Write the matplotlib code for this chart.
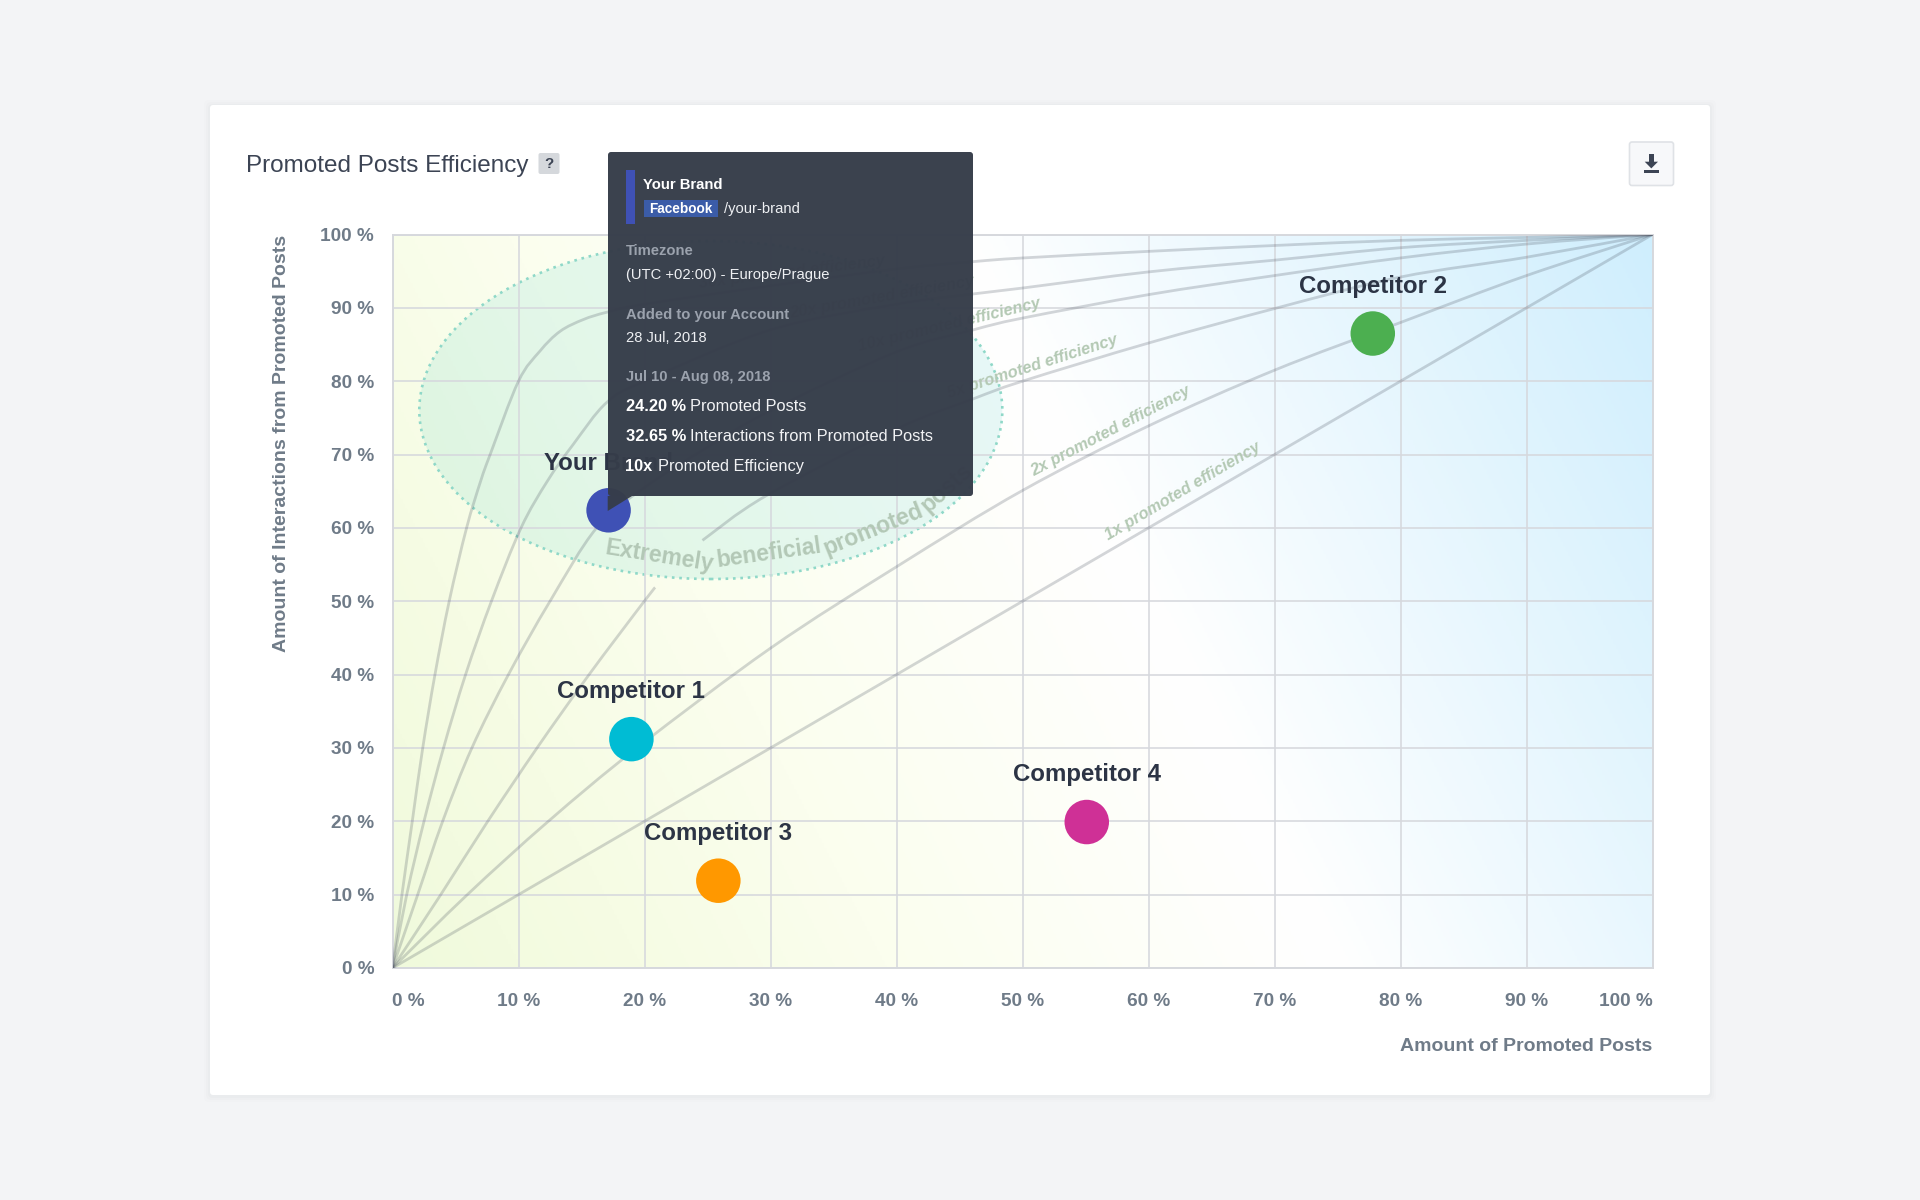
import numpy as np
import matplotlib
matplotlib.use("Agg")
import matplotlib.pyplot as plt
from matplotlib.colors import LinearSegmentedColormap
from matplotlib.patches import Ellipse, FancyBboxPatch, Polygon, PathPatch, Rectangle
from matplotlib.path import Path

plt.rcParams['font.family'] = ['Liberation Sans', 'DejaVu Sans']

# ---------- data ----------
tick_values = [0, 10, 20, 30, 40, 50, 60, 70, 80, 90, 100]
x_label = "Amount of Promoted Posts"
y_label = "Amount of Interactions from Promoted Posts"
chart_title = "Promoted Posts Efficiency"

brand_names = ["Your Brand", "Competitor 1", "Competitor 2", "Competitor 3", "Competitor 4"]
brand_x = [17.15, 18.96, 77.8, 25.86, 55.1]
brand_y = [62.4, 31.2, 86.5, 11.9, 19.9]
brand_colors = ["#3f51b5", "#00bcd4", "#4caf50", "#ff9800", "#cf3096"]

curve_a_x = [0, 0.75, 1.57, 2.4, 3.37, 4.5, 5.88, 7.0, 7.75, 10, 11.7, 13.3, 15.14, 17.0, 20, 30, 40, 46.1, 50, 60, 70, 80, 90, 100]
curve_a_y = [0, 10, 20, 30, 40, 50, 60, 66.4, 70, 80, 84.1, 86.8, 88.4, 89.4, 90.5, 93, 95.3, 96.3, 96.8, 97.7, 98.5, 99.2, 99.6, 100]
curve_b_x = [0, 1.13, 2.5, 4.05, 5.8, 7.85, 10.2, 12.3, 14.35, 17, 20, 30, 40, 46.1, 50, 60, 70, 80, 90, 100]
curve_b_y = [0, 10, 20, 30, 40, 50, 60, 66.4, 71.4, 77.1, 80, 87, 90.5, 91.9, 92.7, 94.9, 96.5, 98.2, 99.2, 100]
curve_c_x = [0, 2.0, 3.98, 6.3, 9.2, 12.5, 16.2, 20, 25, 30, 40, 46.1, 50, 60, 70, 80, 90, 100]
curve_c_y = [0, 10, 20, 30, 40, 50, 60, 65.5, 71, 76, 84, 87, 88.6, 91.8, 94.4, 96.8, 98.7, 100]
curve_d1_x = [0, 3.83, 7.56, 11.47, 15.6, 19.98, 20.85]
curve_d1_y = [0, 10, 20, 30, 40, 50, 51.87]
curve_d2_x = [24.6, 29.67, 40, 46.1, 50, 60, 70, 80, 90, 100]
curve_d2_y = [58.3, 64.4, 73.5, 77.6, 80, 85.2, 89.9, 94.2, 96.9, 100]
curve_e_x = [0, 5.94, 12.37, 19.4, 30, 40, 50, 60, 70, 80, 90, 100]
curve_e_y = [0, 10, 20, 30, 43.6, 54.7, 65.1, 73.9, 81.5, 88, 94.4, 100]
curve_f_x = [0, 100]
curve_f_y = [0, 100]

efficiency_labels = ["1x promoted efficiency", "2x promoted efficiency", "5x promoted efficiency",
                     "10x promoted efficiency", "20x promoted efficiency", "30x promoted efficiency"]
zone_label_words = ["Extremely", "beneficial", "promoted", "posts"]

# ---------- layout (pixels of the 1920x1200 picture) ----------
W, H = 1920, 1200
AX_L, AX_R, AX_T, AX_B = 392.5, 1652.5, 234.5, 968.0
PT = 72 / 100  # points per pixel at dpi 100

def px_to_data(px, py):
    return (px - AX_L) / (AX_R - AX_L) * 100, (AX_B - py) / (AX_B - AX_T) * 100

def smooth_path(xs, ys):
    pts = np.column_stack([xs, ys]).astype(float)
    if len(pts) == 2:
        return Path(pts, [Path.MOVETO, Path.LINETO])
    verts, codes = [pts[0]], [Path.MOVETO]
    for i in range(len(pts) - 1):
        p0 = pts[max(i - 1, 0)]
        p1, p2 = pts[i], pts[i + 1]
        p3 = pts[min(i + 2, len(pts) - 1)]
        verts += [p1 + (p2 - p0) / 6, p2 - (p3 - p1) / 6, p2]
        codes += [Path.CURVE4] * 3
    return Path(np.array(verts), codes)

fig = plt.figure(figsize=(W / 100, H / 100), dpi=100, facecolor="#f3f4f6")

# card behind everything
bg = fig.add_axes([0, 0, 1, 1], zorder=0)
bg.set_xlim(0, W); bg.set_ylim(H, 0); bg.axis("off")
for grow, a in [(6, 0.006), (4, 0.010), (2, 0.014)]:
    bg.add_patch(FancyBboxPatch((210 - grow, 105 - grow + 1), 1500 + 2 * grow, 990 + 2 * grow,
                                boxstyle="round,pad=0,rounding_size=5", fc="#20303f", ec="none", alpha=a))
bg.add_patch(FancyBboxPatch((210, 105), 1500, 990, boxstyle="round,pad=0,rounding_size=3", fc="white", ec="none"))

# main chart
ax = fig.add_axes([AX_L / W, 1 - AX_B / H, (AX_R - AX_L) / W, (AX_B - AX_T) / H], zorder=1)
ax.set_xlim(0, 100); ax.set_ylim(0, 100)
ax.set_facecolor("white")

gx, gy = np.meshgrid(np.linspace(0, 1, 500), np.linspace(0, 1, 300))
grad = (gx + 0.3 * gy) / 1.3
cmap = LinearSegmentedColormap.from_list("bg", [(0, "#f0fadc"), (0.15, "#f6fce4"), (0.3, "#fbfeee"),
                                                (0.577, "#ffffff"), (1, "#cfeefd")])
ax.imshow(grad, extent=(0, 100, 0, 100), origin="lower", cmap=cmap, vmin=0, vmax=1, aspect="auto", zorder=0)

ax.set_xticks(tick_values)
ax.set_yticks(tick_values)
ax.set_xticklabels([f"{v} %" for v in tick_values], fontsize=13.7, fontweight="bold", color="#6f7b88")
ax.set_yticklabels([f"{v} %" for v in tick_values], fontsize=13.7, fontweight="bold", color="#6f7b88")
ax.tick_params(axis="x", length=0, pad=18.0)
ax.tick_params(axis="y", length=0, pad=13.2)
xl = ax.get_xticklabels()
xl[0].set_ha("left"); xl[-1].set_ha("right")
ax.grid(True, color="#d6d8dd", lw=1.15, zorder=1)
ax.set_axisbelow(False)
for s in ax.spines.values():
    s.set_color("#d6d8dd"); s.set_linewidth(1.4); s.set_zorder(1.5)

# favourable zone
cx, cy = px_to_data(710.8, 410)
ax.add_patch(Ellipse((cx, cy), 583 / 12.6, 338 / ((AX_B - AX_T) / 100), fc=(0.0, 0.72, 0.72, 0.095), ec="none", zorder=2))
ax.add_patch(Ellipse((cx, cy), 583 / 12.6, 338 / ((AX_B - AX_T) / 100), fc="none", ec="#8fd8c8", lw=1.9,
                     ls=(0, (1.0, 1.8)), zorder=2.1))

# efficiency curves
curves = [(curve_a_x, curve_a_y), (curve_b_x, curve_b_y), (curve_c_x, curve_c_y),
          (curve_d1_x, curve_d1_y), (curve_d2_x, curve_d2_y), (curve_e_x, curve_e_y), (curve_f_x, curve_f_y)]
for xs, ys in curves:
    ax.add_patch(PathPatch(smooth_path(xs, ys), fc="none", ec=(0.27, 0.30, 0.36, 0.23), lw=2.0, zorder=3, capstyle="butt"))

# curve captions
label_pos = [(1183, 491, 30.6), (1111, 431, 27.6), (1033, 367, 17.8), (949.5, 325, 13.5), (882, 297, 10), (792, 272, 7)]
for txt, (px, py, rot) in zip(efficiency_labels, label_pos):
    dx, dy = px_to_data(px, py)
    ax.text(dx, dy, txt, rotation=rot, rotation_mode="anchor", ha="center", va="center", fontsize=11.8,
            fontweight="bold", style="italic", color="#b4c9b4", zorder=4)

word_pos = [(659, 556, -9), (769, 553, 8), (873, 530, 22), (947, 488, 42)]
for txt, (px, py, rot) in zip(zone_label_words, word_pos):
    dx, dy = px_to_data(px, py)
    ax.text(dx, dy, txt, rotation=rot, rotation_mode="anchor", ha="center", va="center", fontsize=16.6,
            fontweight="bold", color="#b3c8b6", zorder=4)

# brands
ax.scatter(brand_x, brand_y, s=(44.5 * PT) ** 2, c=brand_colors, linewidths=0, zorder=5, clip_on=False)
for name, x, y in zip(brand_names, brand_x, brand_y):
    ax.annotate(name, (x, y), xytext=(0, 47.2 * PT), textcoords="offset points", ha="center", va="center",
                fontsize=17.3, fontweight="bold", color="#2c3445", zorder=6)

# axis titles
ax.text(100, px_to_data(0, 1046.3)[1], x_label, ha="right", va="center", fontsize=14, fontweight="bold",
        color="#6f7b88", clip_on=False)
ax.text(px_to_data(281, 0)[0], 100, y_label, rotation=90, ha="center", va="top", fontsize=14, fontweight="bold",
        color="#6f7b88", clip_on=False)

# overlay: header and tooltip
ov = fig.add_axes([0, 0, 1, 1], zorder=2)
ov.set_xlim(0, W); ov.set_ylim(H, 0); ov.axis("off"); ov.patch.set_alpha(0)

ov.text(246, 166, chart_title, fontsize=17.5, color="#3c4454", ha="left", va="center")
ov.add_patch(FancyBboxPatch((538.5, 153), 21, 21, boxstyle="round,pad=0,rounding_size=2", fc="#d5d8dc", ec="none"))
ov.text(549, 163.5, "?", fontsize=11, fontweight="bold", color="#3c4454", ha="center", va="center")

ov.add_patch(FancyBboxPatch((1629.5, 142), 44, 43.5, boxstyle="round,pad=0,rounding_size=2.5", fc="#f7f8fa", ec="#dfe2e6", lw=1.2))
ov.add_patch(Rectangle((1649, 154), 4.7, 8, fc="#3c4454", ec="none"))
ov.add_patch(Polygon([(1644.7, 161.7), (1658, 161.7), (1651.3, 168.4)], fc="#3c4454", ec="none"))
ov.add_patch(Rectangle((1644.3, 170.2), 14.7, 2.5, fc="#3c4454", ec="none"))

TIP = "#363d4a"
ov.add_patch(Polygon([(607.7, 496), (607.7, 511), (632, 496)], fc=TIP, ec="none", alpha=0.97))
ov.add_patch(FancyBboxPatch((608, 152), 365, 344, boxstyle="round,pad=0,rounding_size=3", fc=TIP, ec="none", alpha=0.975))
ov.add_patch(Rectangle((625.5, 169.5), 9.7, 54, fc="#3f51b5", ec="none"))
DY = 1.2
ov.text(643.4, 184 + DY, "Your Brand", fontsize=10.7, fontweight="bold", color="white", va="center")
ov.add_patch(Rectangle((644, 200), 74, 17.3, fc="#3b5ca8", ec="none"))
ov.text(681, 208.0 + DY, "Facebook", fontsize=9.8, fontweight="bold", color="white", va="center", ha="center")
ov.text(724.5, 208.3 + DY, "/your-brand", fontsize=10.6, color="#eef0f3", va="center")
GREY = "#9ba2ad"
ov.text(625.5, 250 + DY, "Timezone", fontsize=10.6, fontweight="bold", color=GREY, va="center")
ov.text(625.5, 274 + DY, "(UTC +02:00) - Europe/Prague", fontsize=10.6, color="#eef0f3", va="center")
ov.text(625.5, 313.3 + DY, "Added to your Account", fontsize=10.6, fontweight="bold", color=GREY, va="center")
ov.text(625.5, 337 + DY, "28 Jul, 2018", fontsize=10.6, color="#eef0f3", va="center")
ov.text(625.5, 376 + DY, "Jul 10 - Aug 08, 2018", fontsize=10.6, fontweight="bold", color=GREY, va="center")
for py, bold_txt, rest, rest_x in [(405.3, "24.20 %", "Promoted Posts", 690.3),
                                   (435.3, "32.65 %", "Interactions from Promoted Posts", 690.3),
                                   (465.7, "10x", "Promoted Efficiency", 657.8)]:
    ov.text(625.5, py + DY, bold_txt, fontsize=11.8, fontweight="bold", color="white", va="center")
    ov.text(rest_x, py + DY, rest, fontsize=11.8, color="#f2f3f5", va="center")

fig.savefig("out.png", dpi=100, facecolor=fig.get_facecolor())
